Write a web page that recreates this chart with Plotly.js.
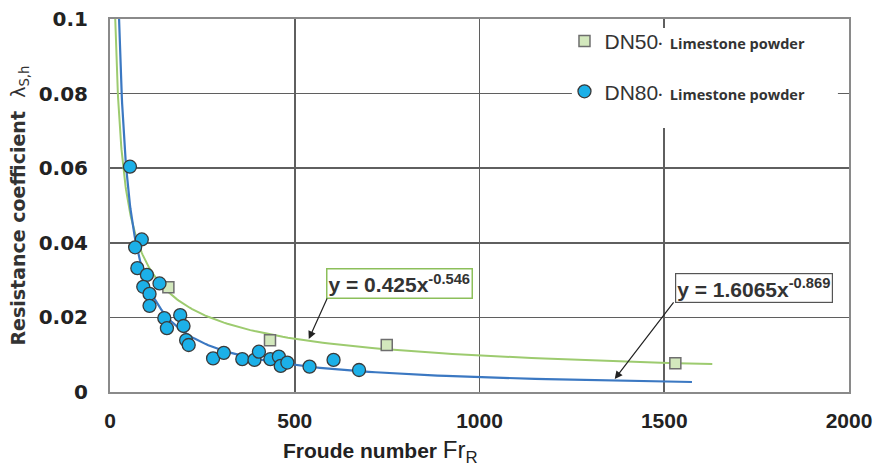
<!DOCTYPE html>
<html>
<head>
<meta charset="utf-8">
<script src="https://cdn.plot.ly/plotly-3.0.1.min.js"></script>
<style>html,body{margin:0;padding:0;background:#fff;}#chart{width:874px;height:468px;}</style>
</head>
<body>
<div id="chart"></div>
<script>
// DN80 measured points (Froude number, resistance coefficient)
var dn80X = [54, 86, 68, 74, 100, 90, 107, 107, 134, 147, 154, 190, 199, 206, 213, 279, 308, 358, 391, 403, 434, 457, 462, 480, 540, 605, 674];
var dn80Y = [0.0604, 0.0409, 0.0388, 0.0332, 0.0314, 0.0282, 0.0263, 0.0231, 0.0291, 0.0198, 0.0171, 0.0206, 0.0177, 0.0139, 0.0126, 0.0090, 0.0105, 0.0088, 0.0086, 0.0108, 0.0088, 0.0095, 0.0070, 0.0079, 0.0068, 0.0086, 0.0059];
// DN50 measured points
var dn50X = [158, 433, 749, 1530];
var dn50Y = [0.0281, 0.0139, 0.0126, 0.0077];
// Power-law trendlines shown on the chart: y = a * x^b
var fit50 = [0.425, -0.546];
var fit80 = [1.6065, -0.869];
var fit50Range = [14, 1630];
var fit80Range = [24, 1575];
var xTicks = [0, 500, 1000, 1500, 2000];
var yTicks = [0, 0.02, 0.04, 0.06, 0.08, 0.1];
var yTickText = ['0', '0.02', '0.04', '0.06', '0.08', '0.1'];

function powerCurve(p, r) {
  var xs = [], ys = [];
  var n = 160;
  for (var i = 0; i <= n; i++) {
    var x = r[0] * Math.pow(r[1] / r[0], i / n);
    xs.push(x);
    ys.push(p[0] * Math.pow(x, p[1]));
  }
  return {x: xs, y: ys};
}
var c50 = powerCurve(fit50, fit50Range);
var c80 = powerCurve(fit80, fit80Range);

var sub = "<span style='font-size:14.5px;font-family:\"Open Sans\";font-weight:bold'>·  Limestone powder</span>";
var pad = '';
for (var k = 0; k < 34; k++) pad += '&nbsp;';

var traces = [
  {x: c50.x, y: c50.y, mode: 'lines', line: {color: '#9dcb6f', width: 2}, showlegend: false, hoverinfo: 'skip'},
  {x: c80.x, y: c80.y, mode: 'lines', line: {color: '#3b78c2', width: 2.2}, showlegend: false, hoverinfo: 'skip'},
  {x: dn50X, y: dn50Y, mode: 'markers', name: "DN50" + sub, legendgroup: 'a', legendrank: 1,
   marker: {symbol: 'square', size: 11, color: '#d3e8bd', line: {color: '#6e6e6e', width: 1.5}}},
  {x: dn80X, y: dn80Y, mode: 'markers', name: "DN80" + sub, legendgroup: 'b', legendrank: 2,
   marker: {symbol: 'circle', size: 13, color: '#1cb0e8', line: {color: '#3a3a3a', width: 1.3}}}
];

var layout = {
  width: 874, height: 468,
  margin: {l: 110, r: 25, t: 19, b: 76},
  paper_bgcolor: '#ffffff', plot_bgcolor: '#ffffff',
  showlegend: true,
  legend: {x: 0.615, y: 0.995, xanchor: 'left', yanchor: 'top', bgcolor: 'rgba(255,255,255,0)',
    traceorder: 'grouped', tracegroupgap: 20, itemwidth: 30,
    font: {family: 'Liberation Sans, Arial', size: 21, color: '#333333'}},
  shapes: [
    {type: 'rect', xref: 'paper', yref: 'paper', x0: 0.625, x1: 0.985, y0: 0.708, y1: 0.976,
     fillcolor: '#ffffff', line: {width: 0}, layer: 'above'}
  ],
  xaxis: {
    range: [0, 2000], tickvals: xTicks, ticks: '', ticklabelstandoff: 9, ticklabeloverflow: 'allow',
    showgrid: true, gridcolor: '#5f5f5f', gridwidth: 1.6, zeroline: false,
    showline: true, linecolor: '#8a8a8a', linewidth: 2, mirror: true,
    tickfont: {family: 'Liberation Sans, Arial', size: 21, color: '#222222', weight: 'bold'},
    title: {text: "<b>Froude number </b><span style='font-size:24px'>Fr<sub>R</sub></span>" + pad, standoff: 12,
      font: {family: 'Liberation Sans, Arial', size: 21, color: '#222222'}}
  },
  yaxis: {
    range: [0, 0.1], tickvals: yTicks, ticktext: yTickText, ticks: '', ticklabelstandoff: 16,
    showgrid: true, gridcolor: '#5f5f5f', gridwidth: 1.6, zeroline: false,
    showline: true, linecolor: '#8a8a8a', linewidth: 2, mirror: true,
    tickfont: {family: 'DejaVu Sans', size: 20, color: '#222222', weight: 'bold'},
    title: {text: "<b>Resistance coefficient  </b>λ<sub>S,h</sub>", standoff: 8,
      font: {family: 'DejaVu Sans', size: 19, color: '#333333'}}
  },
  annotations: [
    {x: 783, y: 0.029, xref: 'x', yref: 'y', showarrow: false,
     text: '<b>y = 0.425x<sup>-0.546</sup></b>', font: {family: 'Liberation Sans, Arial', size: 21, color: '#333333'},
     bgcolor: '#ffffff', bordercolor: '#8cbf5a', borderwidth: 1.5, borderpad: 1},
    {x: 1743, y: 0.0279, xref: 'x', yref: 'y', showarrow: false,
     text: '<b>y = 1.6065x<sup>-0.869</sup></b>', font: {family: 'Liberation Sans, Arial', size: 21, color: '#333333'},
     bgcolor: '#ffffff', bordercolor: '#555555', borderwidth: 1.2, borderpad: 1},
    {x: 538, y: 0.0142, xref: 'x', yref: 'y', text: '', showarrow: true, arrowhead: 2, arrowsize: 1.3,
     arrowwidth: 1.2, arrowcolor: '#222222', ax: 19, ay: -42},
    {x: 1366, y: 0.0035, xref: 'x', yref: 'y', text: '', showarrow: true, arrowhead: 2, arrowsize: 1.3,
     arrowwidth: 1.2, arrowcolor: '#222222', ax: 60, ay: -78}
  ]
};

Plotly.newPlot('chart', traces, layout, {displayModeBar: false, staticPlot: true});
</script>
</body>
</html>
